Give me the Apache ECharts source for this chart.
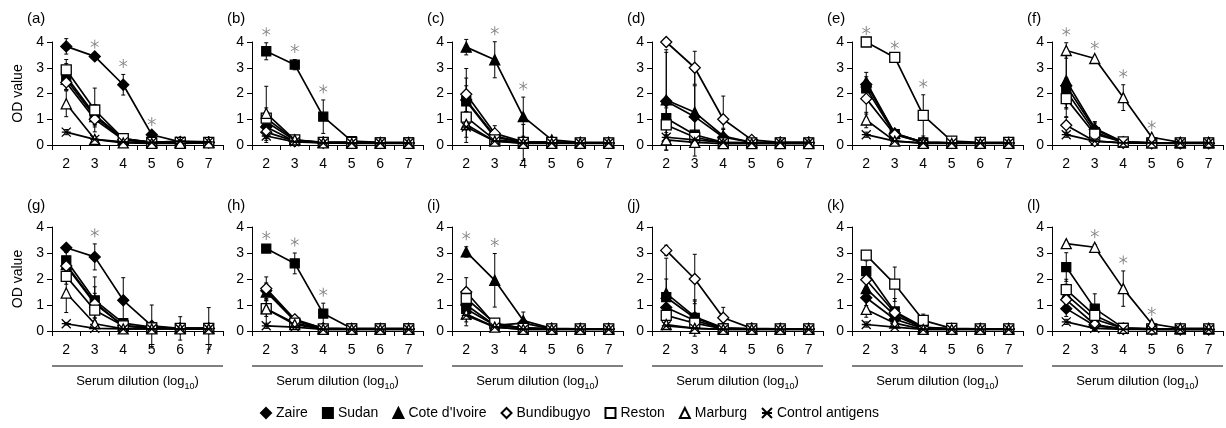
<!DOCTYPE html>
<html><head><meta charset="utf-8">
<script src="https://cdn.jsdelivr.net/npm/echarts@6/dist/echarts.min.js"></script>
<style>html,body{margin:0;padding:0;background:#fff;}#c{width:1226px;height:428px;}</style>
</head><body><div id="c"></div>
<script>
// ---------- data ----------
const dilutions = ['2','3','4','5','6','7'];
const seriesNames = ['Zaire','Sudan',"Cote d'Ivoire",'Bundibugyo','Reston','Marburg','Control antigens'];
const panelLabels = ['(a)','(b)','(c)','(d)','(e)','(f)','(g)','(h)','(i)','(j)','(k)','(l)'];

// order: Zaire, Sudan, Cote d'Ivoire, Bundibugyo, Reston, Marburg, Control
const valsA = [[3.83,3.44,2.34,0.40,0.12,0.10],[2.66,1.17,0.25,0.10,0.10,0.10],[2.55,1.10,0.22,0.10,0.10,0.10],[2.43,1.00,0.20,0.10,0.10,0.10],[2.92,1.36,0.25,0.10,0.10,0.10],[1.60,0.22,0.08,0.06,0.06,0.08],[0.50,0.22,0.12,0.10,0.15,0.12]];
const errA  = [[0.30,0.05,0.40,0.08,0,0],[0.50,0.40,0,0,0,0],[0.40,0.30,0,0,0,0],[0.30,0.30,0,0,0,0],[0.40,0.85,0,0,0,0],[0.50,0.10,0,0,0,0],[0.10,0.05,0,0,0,0]];
const starA = [0,[1,2,3]];

const valsB = [[0.70,0.15,0.10,0.10,0.08,0.08],[3.64,3.12,1.10,0.15,0.10,0.10],[0.90,0.18,0.10,0.10,0.08,0.08],[0.50,0.15,0.08,0.08,0.08,0.08],[1.04,0.20,0.10,0.10,0.08,0.08],[1.23,0.20,0.08,0.06,0.06,0.06],[0.35,0.12,0.08,0.08,0.08,0.08]];
const errB  = [[0.30,0,0,0,0,0],[0.33,0.20,0.65,0.05,0,0],[0.40,0,0,0,0,0],[0.25,0,0,0,0,0],[0.40,0,0,0,0,0],[1.05,0.05,0,0,0,0],[0.25,0,0,0,0,0]];
const starB = [1,[0,1,2]];

const valsC = [[1.75,0.35,0.10,0.10,0.08,0.08],[1.70,0.30,0.10,0.10,0.08,0.08],[3.80,3.31,1.10,0.20,0.10,0.10],[1.97,0.45,0.12,0.10,0.08,0.08],[1.08,0.20,0.10,0.10,0.08,0.08],[0.80,0.15,0.06,0.06,0.06,0.06],[0.70,0.15,0.08,0.08,0.08,0.08]];
const errC  = [[0.85,0.20,0.70,0,0,0],[0.60,0,0,0,0,0],[0.30,0.70,0.76,0.05,0,0],[1.00,0.30,0,0,0,0],[0.50,0,0,0,0,0],[0.50,0,0,0,0,0],[0.60,0,0,0,0,0]];
const starC = [2,[1,2]];

const valsD = [[1.70,1.10,0.30,0.10,0.08,0.08],[1.04,0.40,0.10,0.08,0.08,0.08],[1.75,1.27,0.35,0.10,0.08,0.08],[4.00,3.00,1.00,0.20,0.10,0.10],[0.78,0.30,0.08,0.08,0.08,0.08],[0.20,0.10,0.05,0.05,0.05,0.05],[0.30,0.20,0.10,0.08,0.10,0.10]];
const errD  = [[1.90,1.20,0.30,0,0,0],[0.40,0,0,0,0,0],[1.95,1.70,0.30,0,0,0],[0.02,0.64,0.90,0.05,0,0],[0.30,0,0,0,0,0],[0.10,0,0,0,0,0],[0.10,0,0,0,0,0]];
const starD = [3,[]];

const valsE = [[2.35,0.45,0.10,0.08,0.08,0.08],[2.20,0.42,0.10,0.08,0.08,0.08],[2.45,0.45,0.10,0.08,0.08,0.08],[1.80,0.40,0.10,0.08,0.08,0.08],[4.00,3.40,1.15,0.15,0.10,0.10],[0.97,0.15,0.06,0.06,0.06,0.06],[0.40,0.15,0.08,0.08,0.08,0.08]];
const errE  = [[0.30,0,0,0,0,0],[0.30,0,0,0,0,0],[0.37,0.05,0,0,0,0],[0.60,0,0,0,0,0],[0.02,0.05,0.80,0.05,0,0],[0.30,0,0,0,0,0],[0.10,0,0,0,0,0]];
const starE = [4,[0,1,2]];

const valsF = [[2.30,0.60,0.10,0.08,0.08,0.08],[2.10,0.50,0.10,0.08,0.08,0.08],[2.50,0.65,0.12,0.08,0.08,0.08],[0.77,0.15,0.08,0.06,0.06,0.06],[1.80,0.42,0.12,0.08,0.08,0.08],[3.67,3.36,1.84,0.30,0.10,0.10],[0.40,0.15,0.08,0.08,0.08,0.08]];
const errF  = [[1.20,0.30,0,0,0,0],[0.50,0.40,0,0,0,0],[1.05,0.20,0,0,0,0],[0.30,0,0,0,0,0],[0.40,0.10,0,0,0,0],[0.30,0.08,0.50,0.05,0,0],[0.10,0,0,0,0,0]];
const starF = [5,[0,1,2,3]];

const valsG = [[3.20,2.85,1.18,0.20,0.10,0.10],[2.72,1.18,0.30,0.15,0.10,0.10],[2.55,1.10,0.20,0.12,0.10,0.10],[2.50,1.05,0.20,0.12,0.10,0.10],[2.10,0.80,0.20,0.12,0.10,0.10],[1.46,0.28,0.08,0.08,0.08,0.08],[0.28,0.10,0.08,0.08,0.08,0.08]];
const errG  = [[0.10,0.50,0.87,0.80,0.45,0.80],[0.30,0.90,0.10,0,0,0],[0.30,0.60,0,0,0,0],[0.20,0.40,0,0,0,0],[0.30,0.30,0,0,0,0],[0.75,0.10,0,0,0,0],[0.05,0,0,0,0,0]];
const starG = [0,[1]];

const valsH = [[1.55,0.40,0.10,0.08,0.08,0.08],[3.17,2.60,0.67,0.10,0.10,0.10],[1.50,0.40,0.10,0.08,0.08,0.08],[1.63,0.45,0.10,0.08,0.08,0.08],[0.86,0.30,0.08,0.08,0.08,0.08],[0.85,0.25,0.06,0.06,0.06,0.06],[0.20,0.15,0.06,0.06,0.06,0.06]];
const errH  = [[0.30,0.10,0,0,0,0],[0.08,0.40,0.40,0.05,0,0],[0.30,0,0,0,0,0],[0.45,0.10,0,0,0,0],[0.30,0,0,0,0,0],[0.60,0,0,0,0,0],[0.10,0,0,0,0,0]];
const starH = [1,[0,1,2]];

const valsI = [[1.00,0.22,0.30,0.08,0.08,0.08],[0.85,0.22,0.12,0.08,0.08,0.08],[3.04,1.95,0.40,0.10,0.08,0.08],[1.50,0.25,0.12,0.08,0.08,0.08],[1.25,0.30,0.10,0.08,0.08,0.08],[0.65,0.15,0.06,0.06,0.06,0.06],[0.60,0.15,0.06,0.06,0.06,0.06]];
const errI  = [[0.40,0,0,0,0,0],[0.30,0,0,0,0,0],[0.20,1.03,0.33,0,0,0],[0.55,0.10,0,0,0,0],[0.40,0,0,0,0,0],[0.30,0,0,0,0,0],[0.40,0,0,0,0,0]];
const starI = [2,[0,1]];

const valsJ = [[0.90,0.40,0.10,0.08,0.08,0.08],[1.30,0.50,0.10,0.08,0.08,0.08],[1.45,0.55,0.12,0.08,0.08,0.08],[3.10,2.00,0.51,0.10,0.08,0.08],[0.60,0.30,0.08,0.08,0.08,0.08],[0.25,0.10,0.06,0.06,0.06,0.06],[0.20,0.10,0.06,0.06,0.06,0.06]];
const errJ  = [[0.60,0.30,0,0,0,0],[0.70,0.70,0,0,0,0],[1.35,0.60,0,0,0,0],[0.20,0.95,0.40,0,0,0],[0.30,0,0,0,0,0],[0.10,0,0,0,0,0],[0.10,0,0,0,0,0]];
const starJ = [3,[]];

const valsK = [[1.28,0.45,0.10,0.08,0.08,0.08],[2.30,0.75,0.15,0.08,0.08,0.08],[1.63,0.60,0.12,0.08,0.08,0.08],[1.97,0.70,0.12,0.08,0.08,0.08],[2.92,1.80,0.41,0.10,0.08,0.08],[0.83,0.30,0.06,0.06,0.06,0.06],[0.25,0.15,0.06,0.06,0.06,0.06]];
const errK  = [[0.30,0.20,0,0,0,0],[0.40,0.50,0,0,0,0],[0.30,0.20,0,0,0,0],[0.30,0.20,0,0,0,0],[0.10,0.66,0.24,0,0,0],[0.30,0,0,0,0,0],[0.10,0,0,0,0,0]];
const starK = [4,[]];

const valsL = [[0.86,0.20,0.08,0.06,0.06,0.06],[2.46,0.86,0.12,0.08,0.08,0.08],[1.40,0.45,0.10,0.08,0.08,0.08],[1.20,0.25,0.08,0.06,0.06,0.06],[1.59,0.60,0.10,0.08,0.08,0.08],[3.36,3.22,1.63,0.28,0.10,0.10],[0.35,0.10,0.06,0.06,0.06,0.06]];
const errL  = [[0.30,0,0,0,0,0],[0.55,0.57,0,0,0,0],[0.40,0.20,0,0,0,0],[0.30,0,0,0,0,0],[0.40,0.20,0,0,0,0],[0.05,0.10,0.68,0.05,0,0],[0.10,0,0,0,0,0]];
const starL = [5,[1,2,3]];

// ---------- styles ----------
const FONT = 'Liberation Sans, Arial, sans-serif';
const symbols = ['diamond','rect','triangle','diamond','rect','triangle','path://M0,0L10,10M10,0L0,10M0,5L10,5'];
const fills   = ['#000','#000','#000','#fff','#fff','#fff','#fff'];
const sizes   = [11,9,10,11,10,10,9];

const panels = [
  [valsA,errA,starA],[valsB,errB,starB],[valsC,errC,starC],[valsD,errD,starD],[valsE,errE,starE],[valsF,errF,starF],
  [valsG,errG,starG],[valsH,errH,starH],[valsI,errI,starI],[valsJ,errJ,starJ],[valsK,errK,starK],[valsL,errL,starL]
];

const grids=[], xAxes=[], yAxes=[], series=[], graphics=[];
panels.forEach((P, p) => {
  const [vals, errs, star] = P;
  const row = Math.floor(p/6), col = p%6;
  const left = 52 + 200*col, top = row ? 227 : 42, h = row ? 104 : 103;
  grids.push({left, top, width:171, height:h});
  xAxes.push({
    gridIndex:p, type:'category', data:dilutions, boundaryGap:true,
    axisLine:{lineStyle:{color:'#000',width:1}},
    axisTick:{show:true,length:5,lineStyle:{color:'#000'}},
    axisLabel:{color:'#000',fontSize:14,margin:12,fontFamily:FONT},
    name: row ? '{t|Serum dilution (log}{s|10}{t|)}' : '',
    nameLocation:'middle', nameGap:40,
    nameTextStyle:{rich:{t:{fontSize:13,fontFamily:FONT,color:'#000',lineHeight:20,verticalAlign:'middle'},
                         s:{fontSize:9,fontFamily:FONT,color:'#000',lineHeight:20,verticalAlign:'bottom'}}}
  });
  yAxes.push({
    gridIndex:p, type:'value', min:0, max:4, interval:1,
    axisLine:{show:true,lineStyle:{color:'#000',width:1}},
    axisTick:{show:true,length:5,lineStyle:{color:'#000'}},
    axisLabel:{color:'#000',fontSize:14,margin:8,fontFamily:FONT},
    splitLine:{show:false},
    name: col===0 ? 'OD value' : '', nameLocation:'middle', nameGap:27, nameRotate:90,
    nameTextStyle:{fontSize:14,color:'#000',fontFamily:FONT}
  });
  // error bars
  const errData = [];
  vals.forEach((s, si) => s.forEach((v, i) => { const e = errs[si][i]; if (e > 0) errData.push([i, v - e, v + e]); }));
  series.push({
    type:'custom', xAxisIndex:p, yAxisIndex:p, z:1, silent:true, data:errData,
    renderItem:(params, api) => {
      const a = api.coord([api.value(0), api.value(1)]);
      const b = api.coord([api.value(0), api.value(2)]);
      const w = 2;
      return {type:'group', children:[
        {type:'line', shape:{x1:a[0],y1:a[1],x2:b[0],y2:b[1]}, style:{stroke:'#000',lineWidth:1}},
        {type:'line', shape:{x1:a[0]-w,y1:a[1],x2:a[0]+w,y2:a[1]}, style:{stroke:'#000',lineWidth:1}},
        {type:'line', shape:{x1:b[0]-w,y1:b[1],x2:b[0]+w,y2:b[1]}, style:{stroke:'#000',lineWidth:1}}
      ]};
    }
  });
  // lines
  vals.forEach((s, si) => {
    series.push({
      type:'line', name:seriesNames[si], xAxisIndex:p, yAxisIndex:p, data:s, z:2+si*0.01,
      symbol:symbols[si], symbolSize:sizes[si], showAllSymbol:true,
      lineStyle:{color:'#000',width:1.7},
      itemStyle:{color:fills[si],borderColor:'#000',borderWidth:1.3},
      emphasis:{disabled:true}
    });
  });
  // asterisks
  const si = star[0];
  const starData = star[1].map(i => [i, vals[si][i] + errs[si][i]]);
  series.push({
    type:'custom', xAxisIndex:p, yAxisIndex:p, z:5, silent:true, data:starData,
    renderItem:(params, api) => {
      const c = api.coord([api.value(0), api.value(1)]);
      const cx = c[0], cy = c[1] - 11, r = 4.5;
      const kids = [0, 60, 120].map(deg => {
        const t = deg*Math.PI/180, dx = r*Math.sin(t), dy = r*Math.cos(t);
        return {type:'line', shape:{x1:cx-dx,y1:cy-dy,x2:cx+dx,y2:cy+dy}, style:{stroke:'#888',lineWidth:1}};
      });
      return {type:'group', children:kids};
    }
  });
  graphics.push({type:'text', left:27+200*col, top: row ? 198 : 11,
    style:{text:panelLabels[p], font:'15px '+FONT, fill:'#000'}});
  if (row) graphics.push({type:'line', shape:{x1:left, y1:366, x2:left+171, y2:366}, style:{stroke:'#000', lineWidth:1}});
});

const legendData = seriesNames.map((n, i) => ({name:n, icon:symbols[i]}));

const chart = echarts.init(document.getElementById('c'));
chart.setOption({
  animation:false, backgroundColor:'#fff',
  grid:grids, xAxis:xAxes, yAxis:yAxes, series, graphic:graphics,
  legend:{data:legendData, left:255, top:401, itemWidth:10, itemHeight:10, itemGap:14,
    textStyle:{fontSize:14, color:'#000', fontFamily:FONT}, selectedMode:false}
});
</script></body></html>
